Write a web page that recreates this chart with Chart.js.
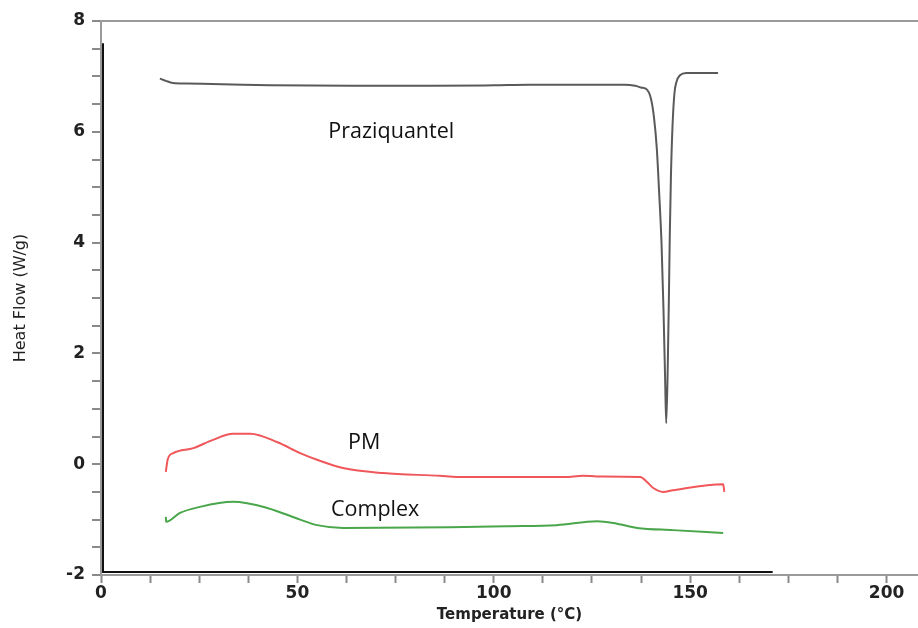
<!DOCTYPE html>
<html>
<head>
<meta charset="utf-8">
<script src="https://cdn.jsdelivr.net/npm/chart.js@4.4.0/dist/chart.umd.min.js"></script>
<style>
  html, body { margin: 0; padding: 0; background: #ffffff; }
  #wrap { width: 918px; height: 628px; position: relative; }
</style>
</head>
<body>
<div id="wrap"><canvas id="c" width="918" height="628"></canvas></div>
<script>
// ---- Data ----
const tempPZQ = [15.0, 16.5, 18.3, 22, 30.8, 43, 64, 84.5, 100, 109, 125, 133.4, 136, 137.5, 139, 140, 140.8, 141.5, 142.1, 142.7, 143.2, 143.6, 143.9, 144.3, 144.6, 144.8, 145.1, 145.5, 146.0, 146.5, 147.4, 149, 157.1];
const flowPZQ = [6.96, 6.92, 6.88, 6.87, 6.86, 6.84, 6.83, 6.83, 6.84, 6.85, 6.85, 6.85, 6.83, 6.80, 6.76, 6.60, 6.25, 5.7, 4.9, 4.0, 2.8, 1.6, 0.74, 1.8, 3.1, 4.1, 5.2, 6.1, 6.7, 6.9, 7.02, 7.06, 7.06];

const tempPM = [16.5, 17, 18.4, 23.5, 28.5, 33.6, 38, 44.8, 50.7, 55, 61.6, 71.8, 86.3, 90.6, 118, 122.7, 126.3, 137.3, 139, 140.6, 143.1, 145.6, 158.4, 158.7];
const flowPM = [-0.14, 0.09, 0.2, 0.29, 0.44, 0.55, 0.55, 0.40, 0.2, 0.08, -0.07, -0.16, -0.21, -0.23, -0.23, -0.21, -0.22, -0.23, -0.32, -0.43, -0.5, -0.47, -0.36, -0.5];

const tempCX = [16.5, 16.6, 20.1, 25.2, 33.6, 42.3, 50.7, 55, 61.6, 88.9, 103.3, 116, 126.3, 130.4, 136.5, 145.6, 158.4];
const flowCX = [-0.95, -1.04, -0.88, -0.77, -0.68, -0.79, -1.0, -1.1, -1.15, -1.14, -1.12, -1.1, -1.03, -1.06, -1.15, -1.19, -1.24];

const xMajorTicks = [0, 50, 100, 150, 200];
const yMajorTicks = [-2, 0, 2, 4, 6, 8];

const curveNames = ['Praziquantel', 'PM', 'Complex'];
const curveLabelT = [73.9, 67, 69.8];
const curveLabelV = [6.0, 0.38, -0.83];

// ---- helpers ----
function pts(xs, ys) { return xs.map((x, i) => ({ x: x, y: ys[i] })); }

const frameAndLabels = {
  id: 'frameAndLabels',
  afterDatasetsDraw(chart) {
    const ctx = chart.ctx;
    const xs = chart.scales.x, ys = chart.scales.y;
    ctx.save();
    // inner dark frame lines of the original figure
    ctx.strokeStyle = '#111';
    ctx.lineWidth = 2;
    ctx.beginPath();
    ctx.moveTo(xs.getPixelForValue(0) + 2, ys.getPixelForValue(7.6));
    ctx.lineTo(xs.getPixelForValue(0) + 2, ys.getPixelForValue(-2) - 3);
    ctx.lineTo(xs.getPixelForValue(171), ys.getPixelForValue(-2) - 3);
    ctx.stroke();
    // curve names
    ctx.fillStyle = '#111';
    ctx.font = '21.5px "Open Sans"';
    ctx.textAlign = 'center';
    ctx.textBaseline = 'middle';
    curveNames.forEach((n, i) => {
      ctx.fillText(n, xs.getPixelForValue(curveLabelT[i]), ys.getPixelForValue(curveLabelV[i]));
    });
    ctx.restore();
  }
};

new Chart(document.getElementById('c'), {
  type: 'line',
  data: {
    datasets: [
      { label: 'Praziquantel', data: pts(tempPZQ, flowPZQ), borderColor: '#5a5a5a', borderWidth: 2, pointRadius: 0, cubicInterpolationMode: 'monotone', fill: false },
      { label: 'PM', data: pts(tempPM, flowPM), borderColor: '#f0575a', borderWidth: 2, pointRadius: 0, cubicInterpolationMode: 'monotone', fill: false },
      { label: 'Complex', data: pts(tempCX, flowCX), borderColor: '#4aa64a', borderWidth: 2, pointRadius: 0, cubicInterpolationMode: 'monotone', fill: false }
    ]
  },
  options: {
    responsive: false,
    animation: false,
    layout: { padding: { top: 21, right: 0, left: 0, bottom: 0 } },
    plugins: { legend: { display: false }, tooltip: { enabled: false } },
    scales: {
      x: {
        type: 'linear',
        min: 0, max: 208,
        afterFit: s => { s.height = 53; },
        afterBuildTicks: s => {
          const t = [];
          for (let v = 0; v <= 200; v += 12.5) t.push({ value: v });
          s.ticks = t;
        },
        border: { display: true, color: '#9a9a9a', width: 2 },
        grid: { drawOnChartArea: false, drawTicks: true, tickLength: 8, color: '#8a8a8a', tickWidth: 2 },
        ticks: {
          autoSkip: false, maxRotation: 0, padding: 0,
          color: '#222',
          font: { family: 'DejaVu Sans', size: 17, weight: 'bold' },
          callback: v => xMajorTicks.includes(v) ? String(v) : ''
        },
        title: {
          display: true, text: 'Temperature (°C)', color: '#222',
          font: { family: 'DejaVu Sans', size: 15, weight: 'bold' },
          padding: { top: 0, bottom: 4 }
        }
      },
      y: {
        type: 'linear',
        min: -2, max: 8,
        afterFit: s => { s.width = 101; },
        afterBuildTicks: s => {
          const t = [];
          for (let v = -2; v <= 8.001; v += 0.5) t.push({ value: v });
          s.ticks = t;
        },
        border: { display: true, color: '#9a9a9a', width: 2 },
        grid: {
          drawOnChartArea: true, drawTicks: true, tickLength: 9, tickWidth: 2,
          color: c => (c.tick && c.tick.value === 8) ? '#9a9a9a' : 'rgba(0,0,0,0)',
          lineWidth: 2,
          tickColor: '#8a8a8a'
        },
        ticks: {
          autoSkip: false, padding: 7,
          color: '#222',
          font: { family: 'DejaVu Sans', size: 17, weight: 'bold' },
          callback: v => yMajorTicks.includes(v) ? String(v) : ''
        },
        title: {
          display: true, text: 'Heat Flow (W/g)', color: '#222',
          font: { family: 'DejaVu Sans', size: 16 },
          padding: { top: 11, bottom: 0 }
        }
      }
    }
  },
  plugins: [frameAndLabels]
});
</script>
</body>
</html>
